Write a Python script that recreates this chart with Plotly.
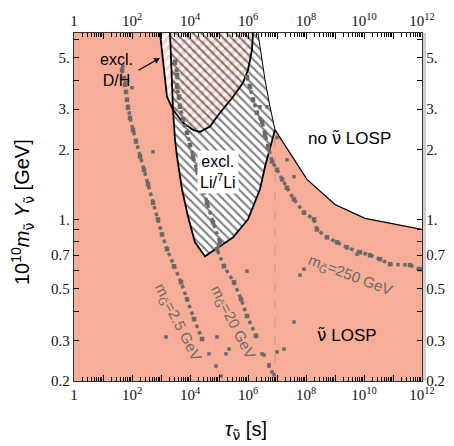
import math
import plotly.graph_objects as go

SALMON = "#f7ae98"
GRAY = "#6a6a6a"
SANS = "Liberation Sans, Arial, sans-serif"
SERIF = "Liberation Serif, Times New Roman, serif"
NU = '<span style="font-family:DejaVu Sans">\u03bd\u0303</span>'
GT = '<span style="font-family:DejaVu Sans">G\u0303</span>'

# ---- region boundaries (tau [s], 1e10 m Y [GeV]) ----
# nu-LOSP (salmon) region
losp_x = [1, 924, 1172, 1610, 2593, 3041, 3565, 5297, 8530, 14860, 32890,
          108200, 304000, 1.0e6, 2.59e6, 3.86e6, 6.72e6, 8.53e6,
          1.08e8, 1.0e9, 1.08e10, 1.0e12, 1.0e12, 1]
losp_y = [6.4, 6.4, 4.75, 3.39, 2.98, 2.21, 1.87, 1.35, 1.03, 0.796, 0.693,
          0.765, 0.836, 1.0, 1.35, 1.69, 2.21, 2.44,
          1.49, 1.16, 1.01, 0.905, 0.2, 0.2]

# D/H excluded region
dh_x = [924, 1172, 1610, 2593, 5741, 12690, 22130, 48980, 108200, 304000,
        673000, 1.0e6, 1.37e6, 1.49e6]
dh_y = [6.4, 4.75, 3.39, 2.98, 2.62, 2.44, 2.39, 2.52, 2.89, 3.39,
        3.90, 4.43, 5.41, 6.4]

# Li/7Li excluded region
li_x = [2042, 2593, 3041, 3565, 5297, 8530, 14860, 32890, 108200, 304000,
        1.0e6, 2.59e6, 3.86e6, 6.72e6, 8.53e6, 5.74e6, 3.86e6, 2.59e6, 2.21e6]
li_y = [6.4, 2.98, 2.21, 1.87, 1.35, 1.03, 0.796, 0.693, 0.765, 0.836,
        1.0, 1.35, 1.69, 2.21, 2.44, 3.07, 4.01, 5.68, 6.4]

# vertical dashed marker
dash_x = [8.53e6, 8.53e6]
dash_y = [0.2, 2.44]

# ---- scan points ----
b1_x = [45.2, 53, 57.4, 62.1, 67.3, 72.8, 85.3, 108, 137, 189, 259, 356, 530,
        788, 1082, 1610, 2807, 4898, 7880, 13740, 25940]
b1_y = [4.43, 4.09, 3.82, 3.56, 3.29, 3.04, 2.75, 2.44, 2.17, 1.87, 1.64,
        1.42, 1.18, 1.0, 0.861, 0.743, 0.627, 0.535, 0.452, 0.371, 0.304]
b1o_x = [100, 530, 1486, 60, 48]
b1o_y = [3.71, 1.96, 0.310, 3.9, 4.6]

b2_x = [3041, 3565, 3565, 4178, 4519, 5741, 7880, 1.0e4, 12690, 17420, 22130,
        30400, 38550, 62100, 108200, 85300, 148600, 328800, 574100, 924700,
        1.89e6]
b2_y = [4.80, 4.22, 3.74, 3.39, 3.07, 2.70, 2.37, 2.10, 1.87, 1.64, 1.44,
        1.31, 1.18, 0.97, 0.796, 0.743, 0.627, 0.535, 0.452, 0.382, 0.313]
b2o_x = [9.25e5, 85300, 45190, 221300, 174200, 78800, 117200, 3.04e6,
         5.30e6, 6.72e6]
b2o_y = [0.597, 0.310, 0.262, 0.275, 0.262, 0.232, 0.210, 0.262, 0.232, 0.219]

b3_x = [9.25e5, 1.17e6, 1.49e6, 2.04e6, 3.04e6, 3.86e6, 4.90e6, 6.72e6, 1.0e7,
        1.49e7, 2.21e7, 3.86e7, 8.53e7, 1.89e8, 2.39e8, 5.30e8, 1.17e9,
        2.59e9, 7.28e9, 1.61e10, 3.56e10, 7.88e10, 3.86e11, 8.53e11]
b3_y = [4.13, 3.74, 3.29, 2.89, 2.64, 2.32, 2.04, 1.78, 1.64, 1.49, 1.37,
        1.22, 1.07, 1.0, 0.905, 0.836, 0.796, 0.757, 0.721, 0.700, 0.673,
        0.640, 0.634, 0.609]
b3o_x = [1.0e7, 2.21e7, 3.86e7, 6.21e7, 8.53e7, 5.74e9, 3.86e7, 1.74e7,
         1.0e7, 3.56e6, 5.30e6, 7.88e6, 2.59e6, 4.52e6]
b3o_y = [2.26, 1.81, 1.53, 0.574, 0.609, 0.706, 0.360, 0.275, 0.267, 0.259,
         0.235, 0.213, 3.07, 3.07]

# ---- axes ticks ----
x_ticks = [10 ** e for e in range(0, 13)]
x_text = ["1" if e == 0 else ("10<sup>%d</sup>" % e if e % 2 == 0 else "")
          for e in range(0, 13)]
y_ticks = [0.2, 0.3, 0.5, 0.7, 1, 2, 3, 5]
y_text = ["0.2", "0.3", "0.5", "0.7", "1.", "2.", "3.", "5."]
x_minor = [m * 10 ** e for e in range(0, 12) for m in range(2, 10)]
y_minor = [0.4, 0.6, 0.8, 0.9, 4, 6]

fig = go.Figure()

fig.add_trace(go.Scatter(x=losp_x, y=losp_y, mode="lines", fill="toself",
                         fillcolor=SALMON, line=dict(width=0),
                         hoverinfo="skip"))
fig.add_trace(go.Scatter(x=dh_x, y=dh_y, mode="lines", fill="toself",
                         fillcolor="white",
                         fillpattern=dict(shape="/", fgcolor=SALMON,
                                          bgcolor="white", size=7,
                                          solidity=0.55),
                         line=dict(width=0), hoverinfo="skip"))
fig.add_trace(go.Scatter(x=li_x, y=li_y, mode="lines", fill="toself",
                         fillcolor="rgba(0,0,0,0)",
                         fillpattern=dict(shape="\\", fgcolor="black",
                                          bgcolor="rgba(0,0,0,0)", size=6,
                                          solidity=0.35),
                         line=dict(width=0), hoverinfo="skip"))

# boundary lines
fig.add_trace(go.Scatter(x=dh_x, y=dh_y, mode="lines",
                         line=dict(color="black", width=1.8), hoverinfo="skip"))
fig.add_trace(go.Scatter(x=li_x[:15], y=li_y[:15], mode="lines",
                         line=dict(color="black", width=1.8), hoverinfo="skip"))
fig.add_trace(go.Scatter(x=li_x[14:], y=li_y[14:], mode="lines",
                         line=dict(color="black", width=1.0), hoverinfo="skip"))
fig.add_trace(go.Scatter(x=losp_x[17:22], y=losp_y[17:22], mode="lines",
                         line=dict(color="black", width=1.2), hoverinfo="skip"))
fig.add_trace(go.Scatter(x=dash_x, y=dash_y, mode="lines",
                         line=dict(color="#c8968a", width=1, dash="dash"),
                         hoverinfo="skip"))

# scan points
for bx, by in [(b1_x, b1_y), (b2_x, b2_y), (b3_x, b3_y)]:
    fig.add_trace(go.Scatter(x=bx, y=by, mode="lines+markers",
                             line=dict(color=GRAY, width=3.5, dash="dot"),
                             marker=dict(color=GRAY, size=4.5, symbol="square"),
                             hoverinfo="skip"))
for bx, by in [(b1o_x, b1o_y), (b2o_x, b2o_y), (b3o_x, b3o_y)]:
    fig.add_trace(go.Scatter(x=bx, y=by, mode="markers",
                             marker=dict(color=GRAY, size=3.5, symbol="square"),
                             hoverinfo="skip"))

# helper trace to activate the top/right axes
fig.add_trace(go.Scatter(x=[10], y=[1], xaxis="x2", yaxis="y2", mode="markers",
                         marker=dict(opacity=0), hoverinfo="skip"))

xr = [0, 12]
yr = [math.log10(0.2), math.log10(6.4)]
common_x = dict(type="log", range=xr, tickmode="array", tickvals=x_ticks,
                ticktext=x_text, ticks="inside", ticklen=6, tickcolor="black",
                showline=True, linecolor="#333", linewidth=1.3,
                showgrid=False, zeroline=False,
                tickfont=dict(family=SERIF, size=15, color="#111"),
                minor=dict(tickmode="array", tickvals=x_minor, ticks="inside",
                           ticklen=3.5, tickcolor="black", showgrid=False))
common_y = dict(type="log", range=yr, tickmode="array", tickvals=y_ticks,
                ticktext=y_text, ticks="inside", ticklen=5, tickcolor="black",
                showline=True, linecolor="#333", linewidth=1.3,
                showgrid=False, zeroline=False,
                tickfont=dict(family=SERIF, size=15, color="#111"),
                minor=dict(tickmode="array", tickvals=y_minor, ticks="inside",
                           ticklen=5, tickcolor="black", showgrid=False))

# page body has an 8px margin: shrink the figure so plot area lands at 74..422 / 33..381
fig.update_layout(
    width=446, height=438,
    margin=dict(l=66, r=32, t=25, b=65, autoexpand=False),
    plot_bgcolor="white", paper_bgcolor="white",
    showlegend=False,
    xaxis=dict(**common_x, side="bottom", anchor="y"),
    xaxis2=dict(**common_x, side="top", overlaying="x", anchor="y2"),
    yaxis=dict(**common_y, side="left", anchor="x"),
    yaxis2=dict(**common_y, side="right", overlaying="y", anchor="x2"),
    shapes=[dict(type="rect", xref="paper", yref="paper",
                 x0=1.0 + 1.0 / 348, x1=1.0 + 4.0 / 348, y0=0, y1=1,
                 fillcolor="#cfcfcf", line=dict(width=0), layer="below")],
)


def px(x):
    return (x - 74) / 348


def py(y):
    return (381 - y) / 348


C = dict(xref="paper", yref="paper", xanchor="center", yanchor="middle",
         showarrow=False)
ann = []
ann.append(dict(C, text="10<sup>10</sup><i>m</i><sub>%s</sub> <i>Y</i><sub>%s</sub> [GeV]" % (NU, NU),
                x=px(22), y=py(212), textangle=-90,
                font=dict(family=SANS, size=20, color="black")))
ann.append(dict(C, text="<i>\u03c4</i><sub>%s</sub> [s]" % NU,
                x=px(246), y=py(430),
                font=dict(family=SANS, size=20, color="black")))
ann.append(dict(C, text="excl.<br>D/H", x=px(116), y=py(70),
                font=dict(family=SANS, size=16, color="black")))
ann.append(dict(text="", xref="paper", yref="paper",
                x=px(160), y=py(58), ax=-23, ay=13,
                showarrow=True, arrowhead=2, arrowsize=1, arrowwidth=1.2,
                arrowcolor="black"))
ann.append(dict(C, text="excl.<br>Li/<sup>7</sup>Li", x=px(218), y=py(172),
                bgcolor="white", borderpad=2,
                font=dict(family=SANS, size=16, color="black")))
ann.append(dict(C, text="no %s LOSP" % NU, x=px(349), y=py(138),
                font=dict(family=SANS, size=17, color="black")))
ann.append(dict(C, text="%s LOSP" % NU, x=px(347), y=py(335),
                font=dict(family=SANS, size=17, color="black")))
ann.append(dict(C, text="m<sub>%s</sub>=2.5 GeV" % GT, x=px(178), y=py(322),
                textangle=63, font=dict(family=SANS, size=15, color=GRAY)))
ann.append(dict(C, text="m<sub>%s</sub>=20 GeV" % GT, x=px(233), y=py(322),
                textangle=63, font=dict(family=SANS, size=15, color=GRAY)))
ann.append(dict(C, text="m<sub>%s</sub>=250 GeV" % GT, x=px(350), y=py(275),
                textangle=21, font=dict(family=SANS, size=15, color=GRAY)))
fig.update_layout(annotations=ann)

fig.write_html("out.html")
